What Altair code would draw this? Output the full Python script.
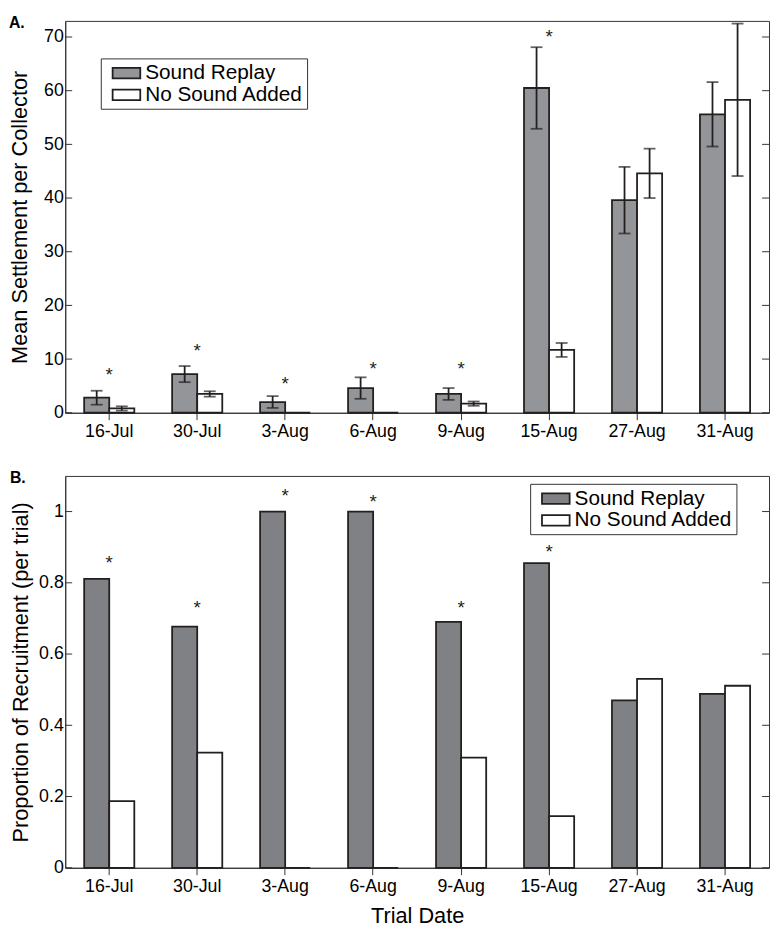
import altair as alt
import pandas as pd

dates = ["16-Jul", "30-Jul", "3-Aug", "6-Aug", "9-Aug", "15-Aug", "27-Aug", "31-Aug"]
groups = ["Sound Replay", "No Sound Added"]

# Panel A: mean settlement per collector (+/- error)
settle_sound = [2.8, 7.2, 2.0, 4.6, 3.5, 60.5, 39.6, 55.6]
settle_sound_err = [1.3, 1.5, 1.1, 2.0, 1.1, 7.6, 6.2, 6.0]
settle_none = [0.8, 3.5, 0.0, 0.0, 1.7, 11.7, 44.6, 58.3]
settle_none_err = [0.4, 0.5, 0.0, 0.0, 0.4, 1.3, 4.6, 14.2]
settle_sig = [7.9, 12.4, 6.2, 9.0, 9.0, 70.9, None, None]
settle_ticks = [0, 10, 20, 30, 40, 50, 60, 70]

# Panel B: proportion of recruitment per trial
recruit_sound = [0.811, 0.677, 1.0, 1.0, 0.690, 0.855, 0.470, 0.488]
recruit_none = [0.187, 0.323, 0.0, 0.0, 0.309, 0.145, 0.530, 0.511]
recruit_sig = [0.869, 0.742, 1.058, 1.041, 0.742, 0.899, None, None]
recruit_ticks = [0, 0.2, 0.4, 0.6, 0.8, 1.0]

FONT = "Liberation Sans"
INK = "#231f20"
W = 713

rows = []
for i, d in enumerate(dates):
    rows.append({"date": d, "group": groups[0], "value": settle_sound[i],
                 "lo": settle_sound[i] - settle_sound_err[i], "hi": settle_sound[i] + settle_sound_err[i],
                 "err": settle_sound_err[i]})
    rows.append({"date": d, "group": groups[1], "value": settle_none[i],
                 "lo": settle_none[i] - settle_none_err[i], "hi": settle_none[i] + settle_none_err[i],
                 "err": settle_none_err[i]})
settle_df = pd.DataFrame(rows)
settle_err_df = settle_df[settle_df["err"] > 0]
settle_sig_df = pd.DataFrame({"date": dates, "y": settle_sig}).dropna()

rrows = []
for i, d in enumerate(dates):
    rrows.append({"date": d, "group": groups[0], "value": recruit_sound[i]})
    rrows.append({"date": d, "group": groups[1], "value": recruit_none[i]})
recruit_df = pd.DataFrame(rrows)
recruit_sig_df = pd.DataFrame({"date": dates, "y": recruit_sig}).dropna()


def xenc(title):
    return alt.X("date:N", sort=dates,
                 scale=alt.Scale(paddingInner=0.43, paddingOuter=0.215),
                 axis=alt.Axis(title=title, labelAngle=0, tickSize=7, ticks=True,
                               tickColor="#333", domainColor="#333", labelPadding=3,
                               labelFontSize=18, labelFont=FONT, labelColor="black",
                               titleFontSize=22, titleFont=FONT, titleFontWeight="normal",
                               titleColor="black", titlePadding=10))


xoff = alt.XOffset("group:N", sort=groups, scale=alt.Scale(paddingInner=0, paddingOuter=0))


def legend(lx, ly):
    return alt.Legend(title=None, orient="none", legendX=lx, legendY=ly,
                      padding=4, strokeColor="#333", fillColor="white",
                      labelFontSize=21, labelFont=FONT, labelColor="black", labelLimit=400,
                      symbolType="M-1.4,-0.53H1.4V0.53H-1.4Z", symbolSize=400,
                      symbolStrokeWidth=1.8, symbolStrokeColor=INK,
                      symbolOffset=11, labelOffset=8, rowPadding=1)


def panel(df, err_df, sig_df, ticks, domain, ytitle, tpad, fmt, gray, lx, ly, height, label, xtitle):
    yscale = alt.Scale(domain=domain, nice=False, zero=True)
    yaxis = alt.Axis(title=ytitle, values=ticks, format=fmt, ticks=False, labelPadding=2,
                     domainColor="#333", labelFontSize=18, labelFont=FONT, labelColor="black",
                     titleFontSize=22, titleFont=FONT, titleFontWeight="normal",
                     titleColor="black", titlePadding=tpad, grid=False)
    bars = alt.Chart(df).mark_bar(stroke=INK, strokeWidth=1.8).encode(
        x=xenc(xtitle),
        xOffset=xoff,
        y=alt.Y("value:Q", scale=yscale, axis=yaxis),
        fill=alt.Fill("group:N", sort=groups,
                      scale=alt.Scale(domain=groups, range=[gray, "white"]),
                      legend=legend(lx, ly)),
    )
    layers = [bars]
    if err_df is not None:
        rule = alt.Chart(err_df).mark_rule(color=INK, strokeWidth=1.8).encode(
            x=alt.X("date:N", sort=dates),
            xOffset=xoff,
            y=alt.Y("lo:Q", scale=yscale, axis=yaxis),
            y2="hi:Q",
        )
        cap_lo = alt.Chart(err_df).mark_tick(color=INK, thickness=1.8, size=12).encode(
            x=alt.X("date:N", sort=dates), xOffset=xoff,
            y=alt.Y("lo:Q", scale=yscale, axis=yaxis))
        cap_hi = alt.Chart(err_df).mark_tick(color=INK, thickness=1.8, size=12).encode(
            x=alt.X("date:N", sort=dates), xOffset=xoff,
            y=alt.Y("hi:Q", scale=yscale, axis=yaxis))
        layers += [rule, cap_lo, cap_hi]
    sig = alt.Chart(sig_df).mark_text(text="*", fontSize=19, font=FONT, color=INK,
                                      baseline="alphabetic", dy=11).encode(
        x=alt.X("date:N", sort=dates),
        y=alt.Y("y:Q", scale=yscale, axis=yaxis),
    )
    tdf = pd.DataFrame({"t": ticks})
    tl = alt.Chart(tdf).mark_rule(color="#333", strokeWidth=1).encode(
        y=alt.Y("t:Q", scale=yscale, axis=yaxis), x=alt.value(0), x2=alt.value(7))
    tr = alt.Chart(tdf).mark_rule(color="#333", strokeWidth=1).encode(
        y=alt.Y("t:Q", scale=yscale, axis=yaxis), x=alt.value(W - 7), x2=alt.value(W))
    layers += [sig, tl, tr]
    return alt.layer(*layers).properties(
        width=W, height=height,
        title=alt.TitleParams(label, anchor="start", frame="bounds", fontSize=16,
                              fontWeight="bold", font=FONT, color="black", offset=-10),
    )


pa = panel(settle_df, settle_err_df, settle_sig_df, settle_ticks, [0, 73],
           "Mean Settlement per Collector", 12, "d", "#939598", 36, 38, 397, "A.", None)
pb = panel(recruit_df, None, recruit_sig_df, recruit_ticks, [0, 1.1],
           "Proportion of Recruitment (per trial)", 6, "~g", "#808184", 471, 8, 397, "B.",
           "Trial Date")

chart = alt.vconcat(pa, pb, spacing=28).resolve_scale(
    y="independent", fill="independent"
).resolve_legend(fill="independent").properties(
    padding={"left": 0, "top": 0, "right": 0, "bottom": 0}
).configure_view(stroke="#333", strokeWidth=1).configure_axis(grid=False)

chart.save("out.html", embed_options={"renderer": "svg", "actions": False})
